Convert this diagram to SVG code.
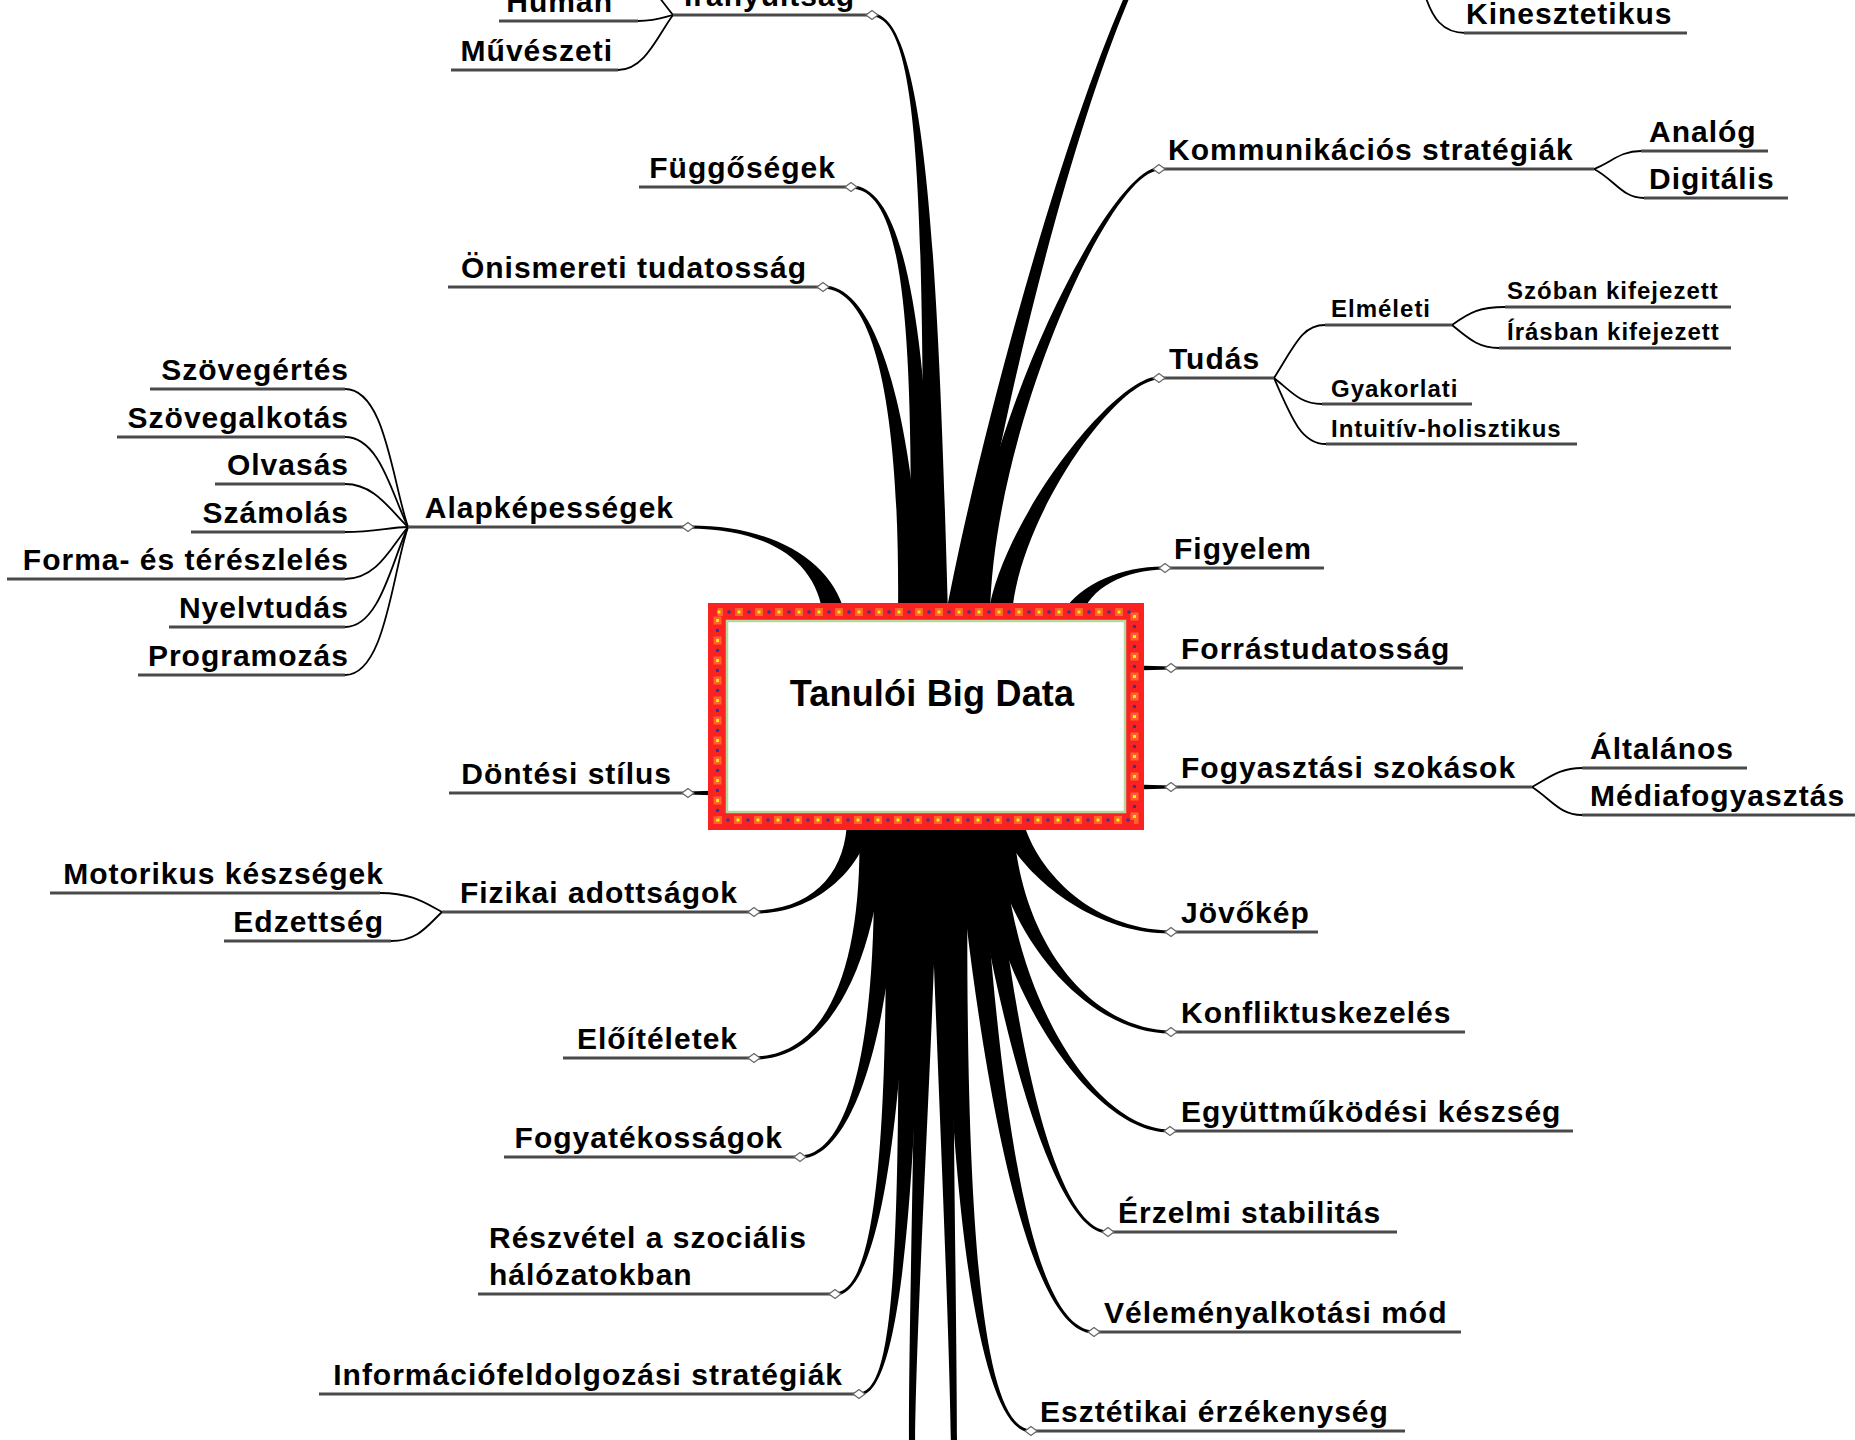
<svg xmlns="http://www.w3.org/2000/svg" xmlns:xlink="http://www.w3.org/1999/xlink" width="1855" height="1440" viewBox="0 0 1855 1440">
<style>
.t{font-family:"Liberation Sans",Arial,sans-serif;font-weight:bold;font-size:30px;letter-spacing:1px;fill:#000}
.s{font-size:24px}
.e{text-anchor:end}
.u{stroke:#4a4a4a;stroke-width:3;fill:none}
.c{fill:#000}
.b{fill:none;stroke:#000;stroke-width:1.8}
.hd{fill:#fff;stroke:#666;stroke-width:1.2}
</style>
<defs>
<path id="hd" class="hd" d="M-6,0 L0,-4.5 L6,0 L0,4.5 Z"/>
</defs>
<rect width="1855" height="1440" fill="#fff"/>
<g id="connectors">
<path class="c" d="M948,615 C938,250 925,12.8 872,13.5 L872,16.5 C925,17.2 922,250 924,615 Z"/>
<path class="c" d="M934,615 C930,330 905,184.8 851,185.5 L851,188.5 C905,189.2 914,330 910,615 Z"/>
<path class="c" d="M922,615 C916,430 880,284.8 823,285.5 L823,288.5 C880,289.2 900,430 898,615 Z"/>
<path class="c" d="M844.8,613 C830.9,558.7 770,524.8 688,525.5 L688,528.5 C770,529.2 817.1,561.3 823.2,617 Z"/>
<path class="c" d="M720,790.5 L688,791.5 L688,794.5 L720,795.5 Z"/>
<path class="c" d="M969.9,616.9 C992.9,451.3 1063.2,151.4 1132.3,-9 L1127.7,-11 C1056.8,148.6 977.1,448.7 946.1,613.1 Z"/>
<path class="c" d="M990,615 C993,430 1110,171.2 1159,170.5 L1159,167.5 C1110,166.8 977,430 966,615 Z"/>
<path class="c" d="M1012,615 C1018,520 1115,380.2 1159,379.5 L1159,376.5 C1115,375.8 1002,520 988,615 Z"/>
<path class="c" d="M1080.3,618.6 C1089.6,587 1125,570.2 1165,569.5 L1165,566.5 C1125,565.8 1080.4,583 1063.7,611.4 Z"/>
<path class="c" d="M1135,665.5 L1171,666.5 L1171,669.5 L1135,670.5 Z"/>
<path class="c" d="M1135,784.5 L1171,785.5 L1171,788.5 L1135,789.5 Z"/>
<path class="c" d="M847,818 C847,870 815,909.8 754,910.5 L754,913.5 C815,914.2 863,870 873,818 Z"/>
<path class="c" d="M859,818 C864,960 830,1055.8 754,1056.5 L754,1059.5 C830,1060.2 880,960 885,818 Z"/>
<path class="c" d="M873,818 C880,1040 850,1154.8 800,1155.5 L800,1158.5 C850,1159.2 896,1040 899,818 Z"/>
<path class="c" d="M885,818 C890,1150 875,1291.8 835,1292.5 L835,1295.5 C875,1296.2 906,1150 911,818 Z"/>
<path class="c" d="M897,818 C902,1250 895,1391.8 859,1392.5 L859,1395.5 C895,1396.2 918,1250 923,818 Z"/>
<path class="c" d="M912,818 C920,1000 908,1300 909,1450 L915,1450 C916,1300 936,1000 938,818 Z"/>
<path class="c" d="M929,818 C934,1000 949,1300 951,1450 L957,1450 C957,1300 950,1000 955,818 Z"/>
<path class="c" d="M942,818 C947,1250 985,1433.2 1031,1432.5 L1031,1429.5 C985,1428.8 963,1250 968,818 Z"/>
<path class="c" d="M955,818 C982,1100 1030,1334.2 1094,1333.5 L1094,1330.5 C1030,1329.8 998,1100 981,818 Z"/>
<path class="c" d="M967,818 C992,1000 1050,1234.2 1108,1233.5 L1108,1230.5 C1050,1229.8 1008,1000 993,818 Z"/>
<path class="c" d="M977,818 C987,980 1090,1133.2 1170,1132.5 L1170,1129.5 C1090,1128.8 1003,980 1003,818 Z"/>
<path class="c" d="M987,818 C1002,940 1090,1034.2 1171,1033.5 L1171,1030.5 C1090,1029.8 1018,940 1013,818 Z"/>
<path class="c" d="M998.5,821.4 C1017.3,872.2 1090,934.2 1171,933.5 L1171,930.5 C1090,929.8 1032.7,867.8 1021.5,814.6 Z"/>
<path class="b" d="M638,21 C655,21 662,18 673,15"/>
<path class="b" d="M618,70 C645,70 658,35 673,15"/>
<path class="b" d="M673,15 C665,5 660,-2 652,-12"/>
<path class="b" d="M345,389 C385,389 392,480 408,527"/>
<path class="b" d="M345,437 C380,437 392,495 408,527"/>
<path class="b" d="M345,484 C375,484 390,510 408,527"/>
<path class="b" d="M345,532 C375,532 390,527 408,527"/>
<path class="b" d="M345,579 C378,579 392,545 408,527"/>
<path class="b" d="M345,627 C380,627 392,560 408,527"/>
<path class="b" d="M345,675 C385,675 392,575 408,527"/>
<path class="b" d="M380,893 C412,893 425,903 442,912"/>
<path class="b" d="M391,941 C418,941 428,925 442,912"/>
<path class="b" d="M1424,-8 C1432,18 1442,33 1466,33"/>
<path class="b" d="M1594,169 C1612,162 1620,151 1641,151"/>
<path class="b" d="M1594,169 C1615,180 1622,198 1644,198"/>
<path class="b" d="M1274,378 C1295,345 1302,325 1325,325"/>
<path class="b" d="M1274,378 C1292,392 1300,404 1322,404"/>
<path class="b" d="M1274,378 C1292,420 1302,444 1326,444"/>
<path class="b" d="M1452,325 C1470,312 1480,307 1505,307"/>
<path class="b" d="M1452,325 C1468,338 1478,348 1499,348"/>
<path class="b" d="M1532,787 C1550,777 1560,768 1582,768"/>
<path class="b" d="M1532,787 C1552,800 1560,815 1582,815"/>
</g>
<g id="node-center">
<rect x="708" y="603" width="436" height="227" fill="#fb2222"/>
<rect x="717.5" y="612" width="417" height="208" fill="none" stroke="#ff9a30" stroke-opacity="0.55" stroke-width="8" stroke-dasharray="8 12" stroke-dashoffset="2.5"/>
<rect x="717.5" y="612" width="417" height="208" fill="none" stroke="#ffe41a" stroke-width="3" stroke-dasharray="3 17"/>
<rect x="717.5" y="612" width="417" height="208" fill="none" stroke="#2c3a9c" stroke-width="3" stroke-dasharray="3 17" stroke-dashoffset="-10"/>
<rect x="727" y="621" width="398" height="191" fill="#fff" stroke="#b6d89e" stroke-width="2.5"/>
<text class="t" x="932" y="706" text-anchor="middle" style="font-size:36px;letter-spacing:0.2px">Tanulói Big Data</text>
</g>
<g id="n-iranyultsag"><path class="u" d="M673,15 H872"/><use href="#hd" x="872" y="15"/><text class="t e" x="855" y="6">Irányultság</text></g>
<g id="n-human"><path class="u" d="M499,21 H638"/><text class="t e" x="613" y="12">Humán</text></g>
<g id="n-muveszeti"><path class="u" d="M451,70 H618"/><text class="t e" x="613" y="61">Művészeti</text></g>
<g id="n-fuggosegek"><path class="u" d="M639,187 H851"/><use href="#hd" x="851" y="187"/><text class="t e" x="836" y="178">Függőségek</text></g>
<g id="n-onismereti"><path class="u" d="M448,287 H823"/><use href="#hd" x="823" y="287"/><text class="t e" x="807" y="278">Önismereti tudatosság</text></g>
<g id="n-alapkepessegek"><path class="u" d="M408,527 H688"/><use href="#hd" x="688" y="527"/><text class="t e" x="674" y="518">Alapképességek</text></g>
<g id="n-szovegertes"><path class="u" d="M150,389 H345"/><text class="t e" x="349" y="380">Szövegértés</text></g>
<g id="n-szovegalkotas"><path class="u" d="M117,437 H345"/><text class="t e" x="349" y="428">Szövegalkotás</text></g>
<g id="n-olvasas"><path class="u" d="M215,484 H345"/><text class="t e" x="349" y="475">Olvasás</text></g>
<g id="n-szamolas"><path class="u" d="M191,532 H345"/><text class="t e" x="349" y="523">Számolás</text></g>
<g id="n-forma"><path class="u" d="M7,579 H345"/><text class="t e" x="349" y="570">Forma- és térészlelés</text></g>
<g id="n-nyelvtudas"><path class="u" d="M169,627 H345"/><text class="t e" x="349" y="618">Nyelvtudás</text></g>
<g id="n-programozas"><path class="u" d="M138,675 H345"/><text class="t e" x="349" y="666">Programozás</text></g>
<g id="n-dontesi"><path class="u" d="M449,793 H688"/><use href="#hd" x="688" y="793"/><text class="t e" x="672" y="784">Döntési stílus</text></g>
<g id="n-fizikai"><path class="u" d="M442,912 H754"/><use href="#hd" x="754" y="912"/><text class="t e" x="738" y="903">Fizikai adottságok</text></g>
<g id="n-motorikus"><path class="u" d="M50,893 H380"/><text class="t e" x="384" y="884">Motorikus készségek</text></g>
<g id="n-edzettseg"><path class="u" d="M224,941 H391"/><text class="t e" x="384" y="932">Edzettség</text></g>
<g id="n-eloiteletek"><path class="u" d="M563,1058 H754"/><use href="#hd" x="754" y="1058"/><text class="t e" x="738" y="1049">Előítéletek</text></g>
<g id="n-fogyatekossagok"><path class="u" d="M504,1157 H800"/><use href="#hd" x="800" y="1157"/><text class="t e" x="783" y="1148">Fogyatékosságok</text></g>
<g id="n-reszvetel"><path class="u" d="M478,1294 H835"/><use href="#hd" x="835" y="1294"/><text class="t" x="489" y="1248">Részvétel a szociális</text><text class="t" x="489" y="1285">hálózatokban</text></g>
<g id="n-informacio"><path class="u" d="M319,1394 H859"/><use href="#hd" x="859" y="1394"/><text class="t e" x="843" y="1385">Információfeldolgozási stratégiák</text></g>
<g id="n-kinesztetikus"><path class="u" d="M1464,33 H1687"/><text class="t" x="1466" y="24">Kinesztetikus</text></g>
<g id="n-kommunikacios"><path class="u" d="M1159,169 H1594"/><use href="#hd" x="1159" y="169"/><text class="t" x="1168" y="160">Kommunikációs stratégiák</text></g>
<g id="n-analog"><path class="u" d="M1641,151 H1768"/><text class="t" x="1649" y="142">Analóg</text></g>
<g id="n-digitalis"><path class="u" d="M1644,198 H1788"/><text class="t" x="1649" y="189">Digitális</text></g>
<g id="n-tudas"><path class="u" d="M1159,378 H1274"/><use href="#hd" x="1159" y="378"/><text class="t" x="1169" y="369">Tudás</text></g>
<g id="n-elmeleti"><path class="u" d="M1325,325 H1452"/><text class="t s" x="1331" y="317">Elméleti</text></g>
<g id="n-szoban"><path class="u" d="M1505,307 H1731"/><text class="t s" x="1507" y="299">Szóban kifejezett</text></g>
<g id="n-irasban"><path class="u" d="M1499,348 H1731"/><text class="t s" x="1507" y="340">Írásban kifejezett</text></g>
<g id="n-gyakorlati"><path class="u" d="M1322,404 H1472"/><text class="t s" x="1331" y="397">Gyakorlati</text></g>
<g id="n-intuitiv"><path class="u" d="M1326,444 H1577"/><text class="t s" x="1331" y="437">Intuitív-holisztikus</text></g>
<g id="n-figyelem"><path class="u" d="M1165,568 H1324"/><use href="#hd" x="1165" y="568"/><text class="t" x="1174" y="559">Figyelem</text></g>
<g id="n-forras"><path class="u" d="M1171,668 H1463"/><use href="#hd" x="1171" y="668"/><text class="t" x="1181" y="659">Forrástudatosság</text></g>
<g id="n-fogyasztasi"><path class="u" d="M1171,787 H1532"/><use href="#hd" x="1171" y="787"/><text class="t" x="1181" y="778">Fogyasztási szokások</text></g>
<g id="n-altalanos"><path class="u" d="M1582,768 H1747"/><text class="t" x="1590" y="759">Általános</text></g>
<g id="n-media"><path class="u" d="M1582,815 H1855"/><text class="t" x="1590" y="806">Médiafogyasztás</text></g>
<g id="n-jovokep"><path class="u" d="M1171,932 H1318"/><use href="#hd" x="1171" y="932"/><text class="t" x="1181" y="923">Jövőkép</text></g>
<g id="n-konfliktus"><path class="u" d="M1171,1032 H1465"/><use href="#hd" x="1171" y="1032"/><text class="t" x="1181" y="1023">Konfliktuskezelés</text></g>
<g id="n-egyuttmukodesi"><path class="u" d="M1170,1131 H1573"/><use href="#hd" x="1170" y="1131"/><text class="t" x="1181" y="1122">Együttműködési készség</text></g>
<g id="n-erzelmi"><path class="u" d="M1108,1232 H1397"/><use href="#hd" x="1108" y="1232"/><text class="t" x="1118" y="1223">Érzelmi stabilitás</text></g>
<g id="n-velemeny"><path class="u" d="M1094,1332 H1461"/><use href="#hd" x="1094" y="1332"/><text class="t" x="1104" y="1323">Véleményalkotási mód</text></g>
<g id="n-esztetikai"><path class="u" d="M1031,1431 H1405"/><use href="#hd" x="1031" y="1431"/><text class="t" x="1040" y="1422">Esztétikai érzékenység</text></g>
</svg>
